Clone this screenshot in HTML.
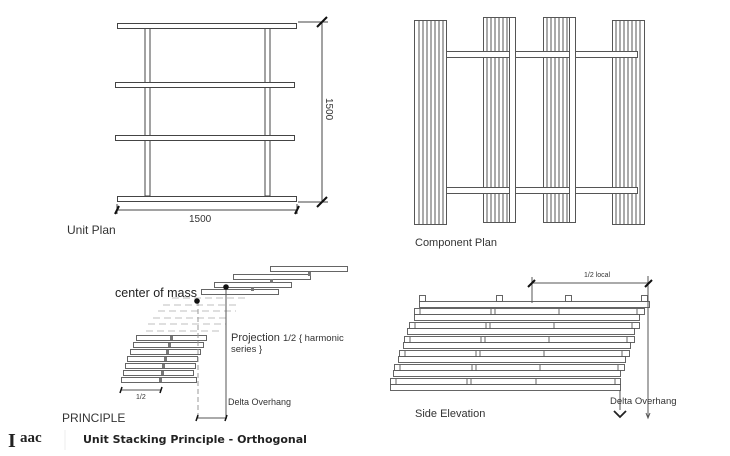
<!DOCTYPE html>
<html><head><meta charset="utf-8"><style>
html,body{margin:0;padding:0;background:#fff;}
svg{display:block;font-family:"Liberation Sans",sans-serif;}
</style></head><body>
<svg width="730" height="456" viewBox="0 0 730 456" xmlns="http://www.w3.org/2000/svg">
<g fill="none" stroke="#444" stroke-width="1">
<!-- Unit plan -->
<rect x="145" y="28" width="5" height="168"/>
<rect x="265" y="28" width="5" height="168"/>
<rect x="117.5" y="23.5" width="179" height="5" fill="#fff"/>
<rect x="115.5" y="82.5" width="179" height="5" fill="#fff"/>
<rect x="115.5" y="135.5" width="179" height="5" fill="#fff"/>
<rect x="117.5" y="196.5" width="179" height="5" fill="#fff"/>
<line x1="322" y1="22" x2="322" y2="203"/>
<line x1="298" y1="22" x2="328" y2="22"/>
<line x1="298" y1="202" x2="328" y2="202"/>
<line x1="116" y1="210" x2="298" y2="210"/>
<line x1="117" y1="204" x2="117" y2="214"/>
<line x1="297" y1="204" x2="297" y2="214"/>
</g>
<g stroke="#111" stroke-width="2">
<line x1="317" y1="27" x2="327" y2="17"/><line x1="317" y1="207" x2="327" y2="197"/>
<line x1="115" y1="214" x2="119" y2="206"/><line x1="295" y1="214" x2="299" y2="206"/>
</g>
<text x="189" y="222" font-size="10" fill="#333">1500</text>
<text x="326" y="98" font-size="10" fill="#333" transform="rotate(90 326 98)">1500</text>
<text x="67" y="234" font-size="12" fill="#333">Unit Plan</text>

<!-- Component plan -->
<g stroke="#444" stroke-width="0.9" fill="none">
<rect x="414.5" y="20.5" width="32" height="204"/>
<path d="M419 21V224M423 21V224M427 21V224M431 21V224M435 21V224M439 21V224M443 21V224"/>
<rect x="483.5" y="17.5" width="32" height="205" fill="#fff"/>
<path d="M487 18V222M491 18V222M495 18V222M499 18V222M503 18V222M507 18V222"/>
<rect x="543.5" y="17.5" width="32" height="205" fill="#fff"/>
<path d="M547 18V222M551 18V222M555 18V222M559 18V222M563 18V222M567 18V222"/>
<rect x="612.5" y="20.5" width="32" height="204" fill="#fff"/>
<path d="M616 21V224M620 21V224M624 21V224M628 21V224M632 21V224M636 21V224M640 21V224"/>
</g>
<g fill="#fff" stroke="#555" stroke-width="1">
<rect x="446.5" y="51.5" width="191" height="6"/>
<rect x="446.5" y="187.5" width="191" height="6"/>
<rect x="509.5" y="17.5" width="6" height="205"/>
<rect x="569.5" y="17.5" width="6" height="205"/>
</g>
<text x="415" y="246" font-size="11" fill="#333">Component Plan</text>

<!-- Principle -->
<g fill="#fff" stroke="#555" stroke-width="0.9">
<rect x="270.5" y="266.5" width="77" height="5"/>
<rect x="233.5" y="274.5" width="77" height="5"/>
<rect x="214.5" y="282.5" width="77" height="5"/>
<rect x="201.5" y="289.5" width="77" height="5"/>
<rect x="136.5" y="335.5" width="70" height="5"/>
<rect x="133.5" y="342.5" width="70" height="5"/>
<rect x="130.5" y="349.5" width="70" height="5"/>
<rect x="127.5" y="356.5" width="70" height="5"/>
<rect x="125.5" y="363.5" width="70" height="5"/>
<rect x="123.5" y="370.5" width="70" height="5"/>
<rect x="121.5" y="377.5" width="75" height="5"/>
</g>
<g fill="#777">
<rect x="308" y="272" width="3" height="4"/><rect x="270" y="279" width="3" height="4"/><rect x="251" y="287" width="3" height="4"/>
<rect x="170" y="336" width="3" height="4"/><rect x="168" y="343" width="3" height="4"/><rect x="166" y="350" width="3" height="4"/>
<rect x="164" y="357" width="3" height="4"/><rect x="162" y="364" width="3" height="4"/><rect x="161" y="371" width="3" height="4"/><rect x="159" y="378" width="3" height="4"/>
</g>
<g stroke="#aaa" stroke-width="0.8" stroke-dasharray="7,4" fill="none">
<path d="M172 298H245M163 305H240M158 311H236M153 318H230M148 324H226M146 331H222"/>
</g>
<g stroke="#555" stroke-width="1" fill="none">
<line x1="226" y1="287" x2="226" y2="418"/>
<line x1="198" y1="301" x2="198" y2="420" stroke-dasharray="5,3" stroke="#999"/>
<line x1="197" y1="418" x2="227" y2="418"/>
<line x1="121" y1="390" x2="161" y2="390"/>
</g>
<g stroke="#111" stroke-width="1.5">
<line x1="120" y1="393" x2="122" y2="387"/><line x1="160" y1="393" x2="162" y2="387"/>
<line x1="196" y1="421" x2="198" y2="415"/><line x1="225" y1="421" x2="227" y2="415"/>
</g>
<circle cx="197" cy="301" r="2.8" fill="#111"/>
<circle cx="226" cy="287" r="2.8" fill="#111"/>
<text x="115" y="297" font-size="12.5" fill="#222">center of mass</text>
<text x="231" y="341" font-size="11" fill="#333">Projection <tspan font-size="9.5">1/2 { harmonic</tspan></text>
<text x="231" y="352" font-size="9.5" fill="#333">series }</text>
<text x="228" y="405" font-size="9" fill="#333">Delta Overhang</text>
<text x="136" y="399" font-size="7" fill="#333">1/2</text>
<text x="62" y="422" font-size="12" fill="#333">PRINCIPLE</text>

<!-- Side elevation -->
<g fill="#fff" stroke="#555" stroke-width="0.9">
<rect x="419.5" y="295.5" width="6" height="6"/><rect x="496.5" y="295.5" width="6" height="6"/>
<rect x="565.5" y="295.5" width="6" height="6"/><rect x="641.5" y="295.5" width="6" height="6"/>
<rect x="419.5" y="301.5" width="230" height="6"/>
<rect x="414.5" y="308.5" width="230" height="6"/><rect x="414.5" y="314.5" width="225" height="6"/>
<rect x="409.5" y="322.5" width="230" height="6"/><rect x="407.5" y="328.5" width="227" height="6"/>
<rect x="404.5" y="336.5" width="230" height="6"/><rect x="403.5" y="342.5" width="227" height="6"/>
<rect x="399.5" y="350.5" width="230" height="6"/><rect x="398.5" y="356.5" width="227" height="6"/>
<rect x="394.5" y="364.5" width="230" height="6"/><rect x="393.5" y="370.5" width="227" height="6"/>
<rect x="390.5" y="378.5" width="230" height="6"/><rect x="390.5" y="384.5" width="230" height="6"/>
</g>
<g stroke="#555" stroke-width="0.9">
<path d="M420 309v6M491 309v6M495 309v6M559 309v6M637 309v6"/>
<path d="M415 323v6M486 323v6M490 323v6M554 323v6M632 323v6"/>
<path d="M410 337v6M481 337v6M485 337v6M549 337v6M627 337v6"/>
<path d="M405 351v6M476 351v6M480 351v6M544 351v6M622 351v6"/>
<path d="M400 365v6M472 365v6M476 365v6M540 365v6M618 365v6"/>
<path d="M396 379v6M467 379v6M471 379v6M536 379v6M615 379v6"/>
</g>
<g stroke="#555" stroke-width="1" fill="none">
<line x1="532" y1="277" x2="532" y2="303"/>
<line x1="531" y1="283" x2="650" y2="283"/>
<line x1="648" y1="276" x2="648" y2="418"/>
<path d="M646 413l2 5 2-5"/>
<line x1="620" y1="390" x2="620" y2="410"/>
</g>
<g stroke="#111" stroke-width="2">
<line x1="528" y1="287" x2="535" y2="280"/><line x1="645" y1="287" x2="652" y2="280"/>
</g>
<path d="M614 411l6 6 6-6" stroke="#222" stroke-width="1.8" fill="none"/>
<text x="584" y="277" font-size="7" fill="#333">1/2 local</text>
<text x="610" y="404" font-size="9.5" fill="#333">Delta Overhang</text>
<text x="415" y="417" font-size="11" fill="#333">Side Elevation</text>

<!-- Footer -->
<text x="8" y="447" font-family="Liberation Serif,serif" font-weight="bold" font-size="20" fill="#222">I</text>
<text x="20" y="442" font-family="Liberation Serif,serif" font-weight="bold" font-size="15" fill="#222">aac</text>
<line x1="65" y1="430" x2="65" y2="450" stroke="#eee"/>
<text x="83" y="443" font-family="DejaVu Sans,sans-serif" font-weight="bold" font-size="11" fill="#222">Unit Stacking Principle - Orthogonal</text>
</svg>
</body></html>
